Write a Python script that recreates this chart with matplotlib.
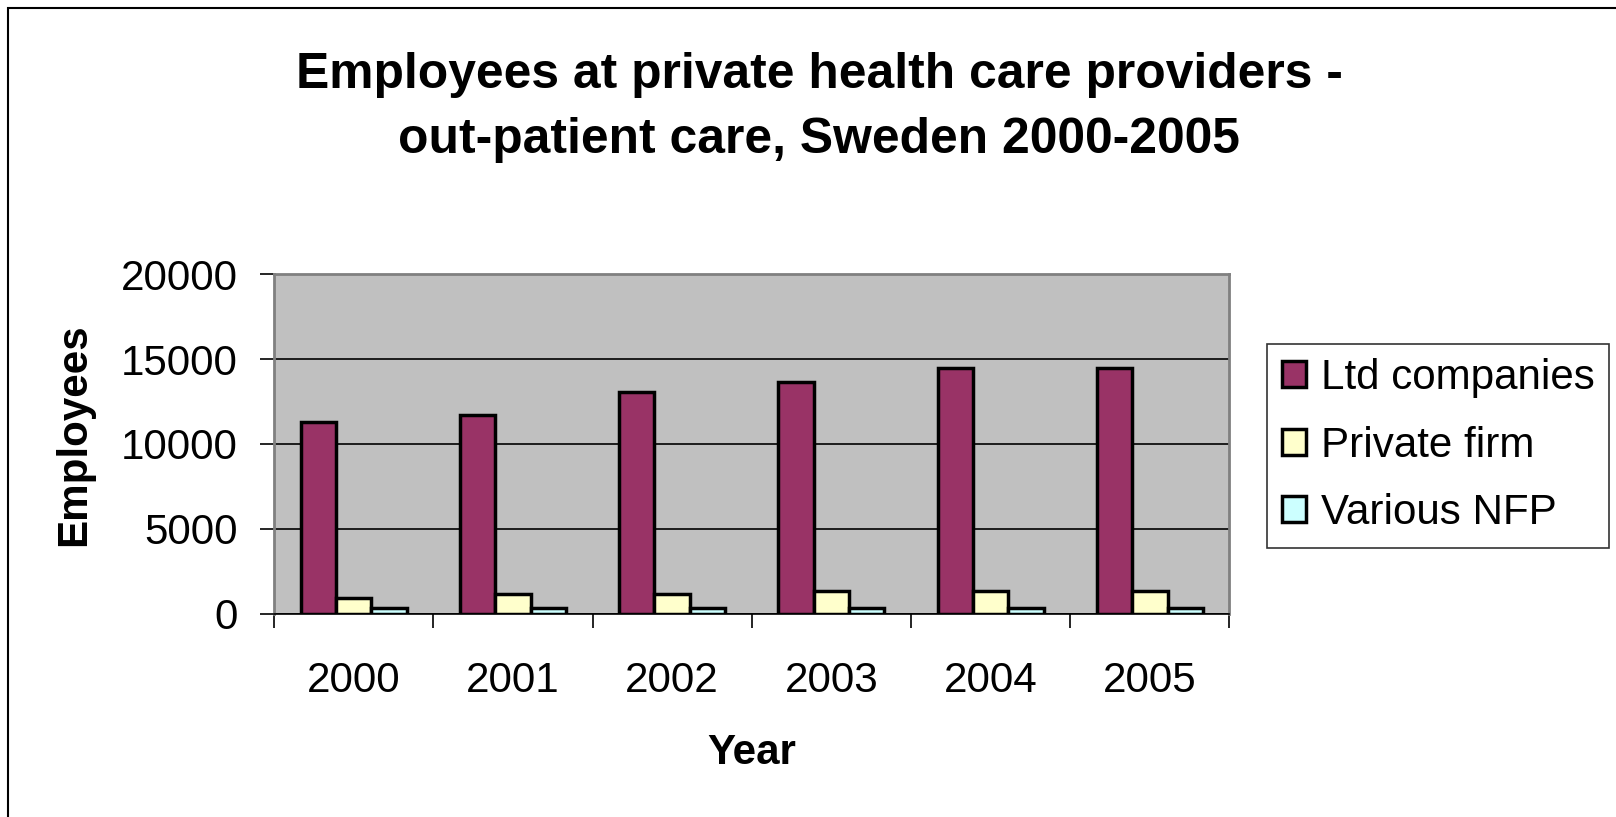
import numpy as np
import matplotlib
matplotlib.use("Agg")
from matplotlib import pyplot as plt
from matplotlib.patches import Rectangle

plt.rcParams['font.family'] = ['Liberation Sans', 'DejaVu Sans']

# data
years = ["2000", "2001", "2002", "2003", "2004", "2005"]
ltd_companies = [11300, 11700, 13050, 13650, 14450, 14450]
private_firm = [950, 1180, 1180, 1370, 1370, 1360]
various_nfp = [350, 350, 350, 350, 350, 350]
series_names = ["Ltd companies", "Private firm", "Various NFP"]
series_colors = ["#993366", "#FFFFCC", "#CCFFFF"]

fs = 30.3

fig = plt.figure(figsize=(16.16, 8.17), dpi=100)
ax = fig.add_axes([0.1696, 0.2485, 0.5912, 0.4161])
ax.set_facecolor("#C0C0C0")

x = np.arange(len(years))
w = 0.222
for i, (vals, name, col) in enumerate(zip([ltd_companies, private_firm, various_nfp],
                                          series_names, series_colors)):
    ax.bar(x + (i - 1) * w, vals, width=w, color=col, edgecolor="black",
           linewidth=2.5, label=name, zorder=3)

ax.set_xlim(-0.5, len(years) - 0.5)
ax.set_ylim(0, 20000)
ax.set_yticks([0, 5000, 10000, 15000, 20000])
ax.yaxis.grid(True, color="black", linewidth=1.2, zorder=1)
ax.set_axisbelow(True)

# year labels at centers, tick marks at category boundaries
ax.set_xticks(x)
ax.set_xticklabels(years)
ax.set_xticks(np.arange(len(years) + 1) - 0.5, minor=True)
ax.tick_params(axis="x", which="major", length=0, pad=34, labelsize=fs)
ax.tick_params(axis="x", which="minor", length=10, width=1.2, direction="out")
ax.tick_params(axis="y", length=10, width=1.2, pad=16, labelsize=fs)

for s in ax.spines.values():
    s.set_color("#808080")
    s.set_linewidth(2)
ax.spines["bottom"].set_color("black")
ax.spines["bottom"].set_linewidth(1.2)

ax.set_xlabel("Year", fontsize=fs, fontweight="bold", labelpad=23)
ax.set_ylabel("Employees", fontsize=fs, fontweight="bold", labelpad=19)
ax.yaxis.label.set_y(0.526)

fig.text(0.507, 0.908, "Employees at private health care providers -",
         ha="center", va="center", fontsize=35.8, fontweight="bold")
fig.text(0.507, 0.829, "out-patient care, Sweden 2000-2005",
         ha="center", va="center", fontsize=35.8, fontweight="bold")

leg = fig.legend(loc="center left", bbox_to_anchor=(0.784, 0.4546), fontsize=fs,
                 frameon=True, fancybox=False, edgecolor="black",
                 handlelength=0.58, handleheight=0.58, handletextpad=0.35,
                 labelspacing=0.65, borderpad=0.35, borderaxespad=0)
leg.get_frame().set_linewidth(1.2)

# outer chart border (only left and top visible in the reference)
fig.add_artist(Rectangle((8 / 1616, -0.1), 1.2, 0.1 + 1 - 8 / 817,
                         transform=fig.transFigure, fill=False,
                         edgecolor="black", linewidth=1.5))

fig.savefig("out.png", dpi=100)
